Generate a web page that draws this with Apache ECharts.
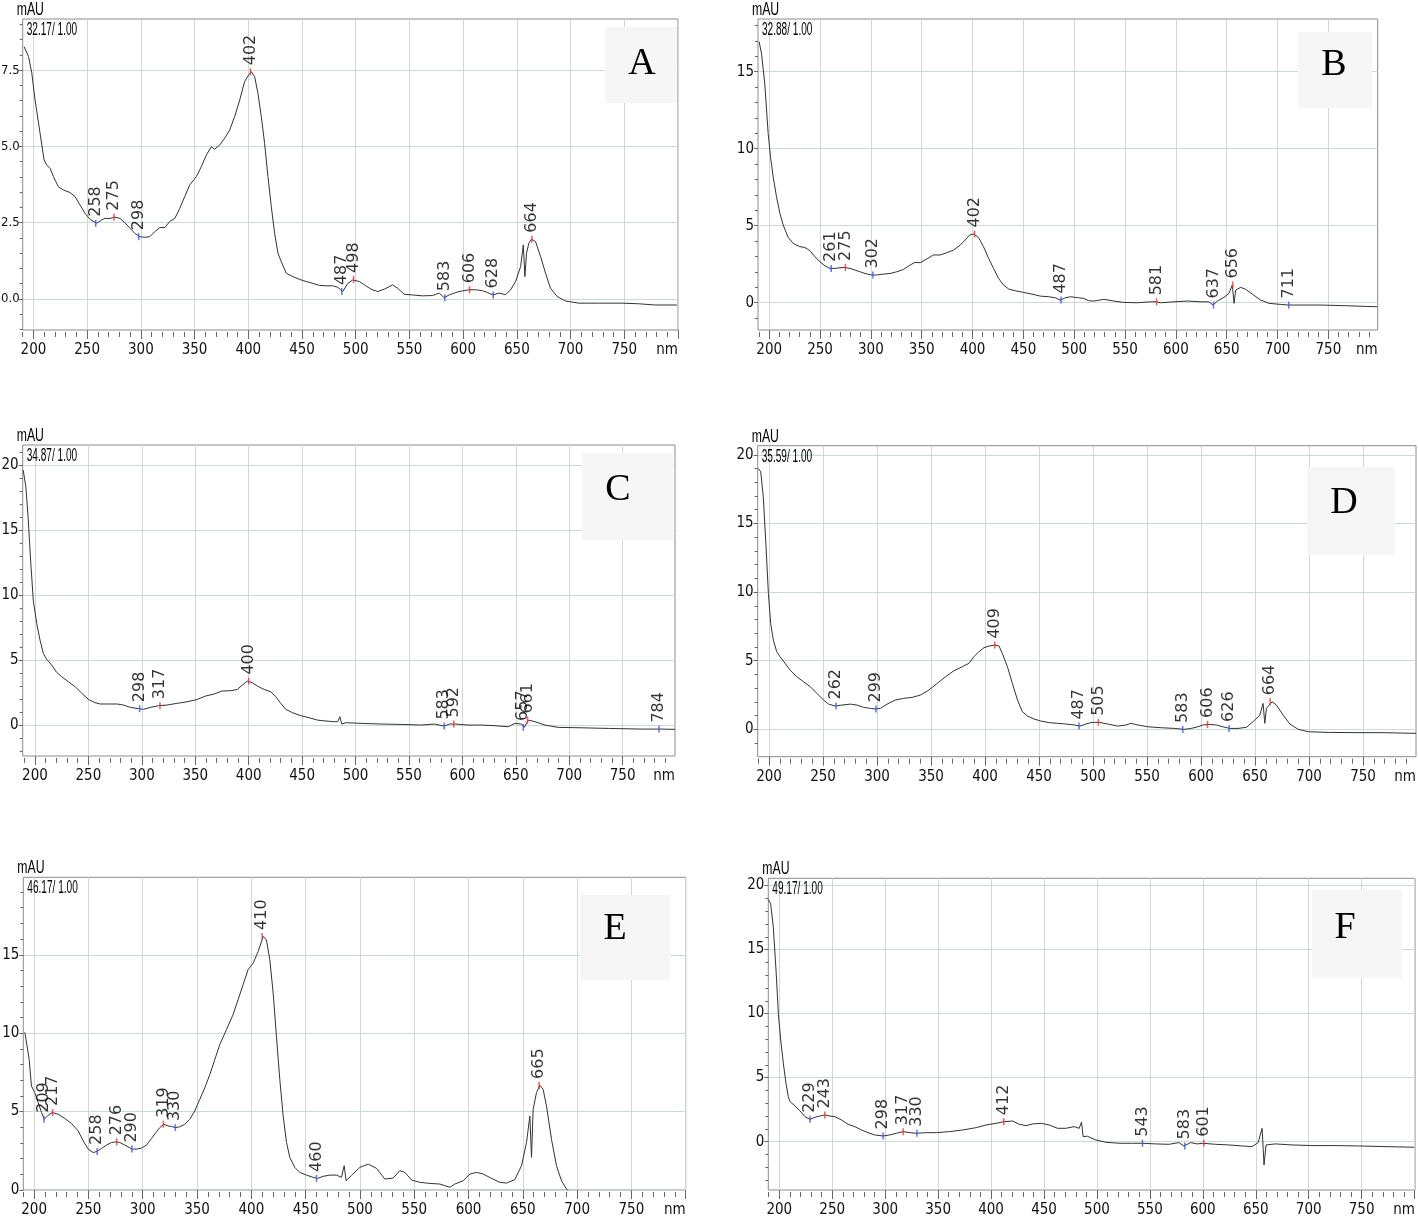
<!DOCTYPE html>
<html><head><meta charset="utf-8">
<script src="https://cdn.jsdelivr.net/npm/echarts@6/dist/echarts.min.js"></script>
<style>html,body{margin:0;padding:0;background:#fff}#c{width:1418px;height:1222px}</style>
</head><body><div id="c"></div>
<script>
// ---------- DATA (wavelength nm, absorbance mAU) ----------
const specA = [[191.3,8.27],[195.4,7.95],[198.5,7.4],[201.5,6.52],[206.2,5.43],[209.9,4.56],[212.4,4.39],[215.5,4.28],[218.6,4.01],[223.2,3.68],[227.9,3.57],[234,3.49],[238.7,3.36],[243.3,3.08],[248,2.81],[252.6,2.61],[258.8,2.48],[263.5,2.59],[266.6,2.64],[271.2,2.64],[275.9,2.68],[280.5,2.64],[285.1,2.5],[289.8,2.32],[294.4,2.15],[299,2.04],[303.7,2.02],[308.4,2.04],[313,2.21],[317.6,2.34],[322.3,2.34],[326.9,2.54],[331.6,2.64],[336.2,2.97],[340.9,3.36],[345.5,3.74],[351.7,4.01],[356.3,4.34],[361,4.72],[365.6,4.99],[368.7,4.91],[373.4,5.05],[378,5.27],[382.7,5.54],[387.3,5.98],[392,6.52],[396.6,7.13],[399.7,7.31],[402.8,7.45],[405.9,7.29],[409,6.74],[412.1,5.98],[415.2,5.1],[418.3,4.01],[421.4,3.03],[424.5,2.15],[427.6,1.5],[430.7,1.22],[435.3,0.84],[441.5,0.73],[447.7,0.64],[453.9,0.57],[460.1,0.51],[466.3,0.44],[472.4,0.43],[478.6,0.43],[483.3,0.38],[487.9,0.24],[492.6,0.51],[497.2,0.62],[503.4,0.57],[508,0.46],[514.2,0.32],[520.4,0.24],[526.6,0.32],[534.3,0.46],[539,0.35],[545.2,0.15],[552.9,0.13],[562.2,0.1],[571.5,0.11],[577.7,0.19],[582.3,0.04],[587,0.13],[591.6,0.19],[596.2,0.24],[600.9,0.27],[605.5,0.3],[611.7,0.3],[617.9,0.27],[622.5,0.21],[627.8,0.13],[633.4,0.19],[639.5,0.14],[644.2,0.3],[648.8,0.57],[653.5,1.06],[656,1.77],[657.5,0.73],[659,1.5],[661.2,1.83],[663.7,1.96],[667.4,1.88],[672.1,1.39],[676.7,0.84],[681.3,0.35],[687.5,0.08],[695.3,-0.07],[707.6,-0.14],[726.2,-0.14],[747.9,-0.14],[763.3,-0.16],[778.8,-0.2],[798.9,-0.2]];
const specB = [[190.1,16.95],[192.4,16.2],[195.7,14.2],[199,11.0],[201.3,9.48],[203.9,8.18],[207.2,6.88],[210.5,5.8],[213.8,5.04],[218.7,4.24],[223.6,3.85],[230.2,3.64],[235.1,3.59],[240.1,3.38],[245,2.99],[249.9,2.66],[254.8,2.4],[259.8,2.23],[264.7,2.23],[269.6,2.27],[274.5,2.29],[279.5,2.23],[284.4,2.12],[289.3,2.01],[294.3,1.9],[300.8,1.8],[305.7,1.8],[312.3,1.86],[318.9,1.9],[325.5,2.01],[332,2.16],[338.6,2.45],[343.5,2.62],[348.4,2.6],[355,2.84],[361.6,3.1],[368.1,3.1],[374.7,3.25],[381.3,3.42],[387.8,3.74],[392.8,4.07],[397,4.39],[401,4.46],[405.9,4.24],[410.8,3.64],[415.8,2.88],[420.7,2.23],[425.6,1.58],[430.5,1.15],[435.5,0.89],[442,0.78],[450.2,0.67],[458.5,0.56],[466.7,0.43],[474.9,0.39],[481.4,0.32],[486.4,0.17],[491.3,0.32],[496.2,0.39],[504.4,0.32],[509.4,0.28],[514.3,0.13],[519.2,0.11],[529.1,0.22],[539,0.11],[548.8,0.02],[561.9,0],[575.1,0.06],[581,0.06],[585,0],[598.1,0.06],[611.2,0.11],[624.3,0.06],[632.5,0.06],[636.5,-0.15],[640.8,0.11],[647.3,0.35],[652.2,0.61],[655.5,1.15],[657.2,-0.04],[658.8,0.82],[663.7,1.0],[668.7,0.87],[675.2,0.56],[683.4,0.17],[691.7,-0.04],[703.1,-0.11],[710.4,-0.15],[722.9,-0.15],[742.6,-0.15],[765.6,-0.19],[798,-0.26]];
const specC = [[189,19.6],[191.5,18.3],[193.7,15.8],[195.9,12.7],[198.4,9.6],[201.6,7.82],[204.7,6.54],[207.8,5.51],[211,5.05],[215.6,4.62],[220.3,4.05],[225,3.72],[231.3,3.33],[237.6,2.95],[243.8,2.44],[250.1,1.97],[256.3,1.72],[261,1.62],[268.9,1.62],[276.7,1.62],[282.9,1.54],[289.2,1.36],[297,1.26],[301.7,1.21],[308,1.36],[315.8,1.49],[323.6,1.54],[333,1.67],[342.4,1.79],[351.8,1.97],[359.6,2.23],[367.4,2.38],[375.3,2.62],[383.1,2.64],[389.4,2.74],[394.1,3.08],[398.7,3.38],[403.4,3.26],[408.1,3.0],[414.4,2.74],[420.7,2.56],[425.4,2.18],[430,1.67],[434.7,1.21],[441,0.95],[448.8,0.72],[456.7,0.56],[464.5,0.38],[472.3,0.31],[480.1,0.26],[483.3,0.26],[485.4,0.64],[487,0.08],[491.1,0.18],[505.2,0.13],[524,0.08],[542.7,0.05],[561.5,0],[574,0.08],[582.8,-0.08],[588.1,0.08],[593.4,0.08],[605.3,0],[617.9,0],[630.4,-0.05],[642.9,-0.13],[649.2,0.13],[655.4,0.08],[657.9,-0.18],[661.7,0.38],[667.9,0.26],[677.3,0],[689.8,-0.18],[705.5,-0.2],[736.8,-0.26],[768.1,-0.31],[785.3,-0.31],[799,-0.33]];
const specD = [[190.1,19.0],[192.3,18.76],[194.7,16.9],[197.2,13.3],[199.4,9.9],[201.5,7.72],[204,6.5],[207.1,5.66],[210.2,5.29],[214.9,4.81],[219.5,4.32],[225.7,3.83],[231.9,3.47],[238.1,3.11],[244.3,2.62],[250.4,2.14],[255.1,1.84],[261.3,1.7],[267.5,1.77],[275.2,1.84],[281.4,1.77],[287.6,1.6],[293.8,1.53],[298.4,1.48],[303.1,1.53],[309.3,1.84],[317,2.14],[324.7,2.26],[332.5,2.33],[340.2,2.5],[347.9,2.86],[355.7,3.35],[363.4,3.83],[371.2,4.27],[378.9,4.56],[385.1,4.81],[389.7,5.29],[394.4,5.66],[399,5.95],[403.7,6.07],[409.2,6.14],[412.9,6.07],[416,5.53],[420.7,4.56],[425.3,3.35],[430,2.14],[434.6,1.29],[439.2,0.97],[445.4,0.75],[451.6,0.61],[459.4,0.49],[467.1,0.44],[474.8,0.39],[482.6,0.32],[487.8,0.24],[493.4,0.39],[498,0.49],[501.1,0.51],[505.8,0.51],[513.5,0.39],[522.8,0.24],[530.6,0.32],[535.2,0.44],[541.4,0.32],[550.7,0.19],[563.1,0.12],[575.4,0.07],[584.1,0],[590.9,0.07],[597.1,0.19],[601.7,0.32],[607,0.36],[614.1,0.32],[620.3,0.19],[626.5,0.07],[634.2,0.07],[642,0.15],[648.2,0.56],[654.4,1.04],[657.4,1.89],[659,0.44],[660.5,1.53],[665.8,2.01],[669.8,1.77],[676,1.04],[682.2,0.39],[690,0],[699.2,-0.17],[717.8,-0.22],[742.6,-0.24],[767.3,-0.24],[799,-0.29]];
const specE = [[191.4,10.06],[192.9,10.0],[195.4,8.33],[197.5,6.63],[200.6,6.21],[203.7,5.57],[206.8,4.94],[209.2,4.51],[212.9,4.77],[216.6,4.94],[222.1,4.83],[228.2,4.56],[234.4,4.24],[240.5,3.77],[245.1,3.14],[249.7,2.61],[254.3,2.39],[258,2.46],[262,2.65],[266.6,2.86],[271.2,3.03],[275.2,3.07],[278.9,3.03],[283.5,2.86],[290.2,2.61],[294.2,2.61],[298.8,2.67],[303.4,2.86],[308,3.28],[312.6,3.71],[315.7,3.98],[319.4,4.19],[323.4,4.09],[326.5,4.05],[330.1,3.98],[334.1,4.03],[338.7,4.19],[343.3,4.51],[347.9,5.04],[352.5,5.78],[357.2,6.53],[361.8,7.37],[366.4,8.33],[371,9.28],[377.1,10.23],[383.2,11.19],[387.8,12.14],[392.4,13.09],[397,14.05],[401.7,14.47],[406.3,15.21],[410.9,16.17],[413.9,15.95],[417,14.68],[420.1,12.56],[423.1,9.81],[426.2,7.06],[429.3,4.72],[432.4,3.03],[435.4,2.08],[440,1.44],[444.6,1.12],[450.8,0.95],[456.9,0.81],[460.9,0.74],[466.1,0.87],[472.3,0.95],[478.4,0.95],[483,0.81],[485.5,1.55],[487.3,0.59],[492.2,0.93],[499.9,1.44],[507.6,1.65],[515.3,1.38],[522.9,0.7],[530.6,0.76],[536.7,1.23],[541.4,1.12],[547.5,0.64],[555.2,0.49],[564.4,0.42],[573.6,0.38],[582.8,0.17],[587.4,0.38],[595.1,0.59],[601.2,1.02],[607.3,1.12],[613.5,1.02],[621.2,0.74],[628.8,0.49],[635,0.44],[642.6,0.66],[648.8,1.55],[653.4,3.03],[656.5,4.72],[658,2.08],[659.5,5.15],[662.6,6.21],[665.7,6.67],[668.7,6.42],[671.8,5.36],[676.4,3.24],[681,1.55],[685.6,0.59],[690.2,0.06],[693.3,-0.15]];
const specF = [[189.6,18.9],[191.8,18.6],[194.3,16.8],[196.9,13.4],[199.1,10.0],[201.3,7.94],[203.8,6.12],[206.3,4.56],[208.5,3.52],[210,3.13],[214.8,2.79],[219.5,2.4],[224.2,1.95],[228.9,1.74],[233.6,1.9],[238.3,2.0],[243,2.08],[247.7,2.0],[252.4,1.95],[258.7,1.69],[265,1.35],[271.3,1.17],[277.6,0.91],[283.8,0.7],[290.1,0.52],[298,0.44],[304.2,0.52],[310.5,0.65],[316.8,0.78],[323.1,0.7],[329.4,0.65],[338.8,0.7],[348.2,0.7],[360.8,0.78],[373.3,0.91],[385.9,1.09],[395.3,1.3],[404.7,1.43],[412.6,1.56],[420.4,1.61],[426.7,1.35],[433,1.25],[439.2,1.38],[447.1,1.43],[454.9,1.3],[462.8,1.04],[470.6,1.04],[478.5,1.17],[483.2,1.04],[485.4,1.52],[487,0.39],[491,0.42],[498.9,0.13],[508.4,-0.05],[520.9,-0.13],[533.5,-0.13],[542.9,-0.13],[555.5,-0.18],[568,-0.21],[577.4,-0.08],[582.1,-0.34],[588.4,-0.08],[594.7,-0.18],[600,-0.13],[612,-0.21],[624.5,-0.26],[637.1,-0.34],[646.5,-0.39],[652.2,-0.08],[656,1.04],[657.8,-1.82],[659.7,-0.26],[668.5,-0.18],[684.2,-0.26],[703,-0.31],[725,-0.31],[747,-0.34],[772.1,-0.39],[799.7,-0.44]];

// peak labels: wavelength, value at marker, kind (max = red, min = blue)
const peaksA = [258,275,298,402,487,498,583,606,628,664];
const peakValA = [2.48,2.68,2.04,7.45,0.24,0.64,0.04,0.3,0.13,1.96];
const peakKindA = ['min','max','min','max','min','max','min','max','min','max'];
const peaksB = [261,275,302,402,487,581,637,656,711];
const peakValB = [2.23,2.29,1.8,4.46,0.17,0.06,-0.15,1.15,-0.15];
const peakKindB = ['min','max','min','max','min','max','min','max','min'];
const peaksC = [298,317,400,583,592,657,661,784];
const peakValC = [1.26,1.49,3.38,-0.08,0.08,-0.18,0.38,-0.31];
const peakKindC = ['min','max','max','min','max','min','max','min'];
const peaksD = [262,299,409,487,505,583,606,626,664];
const peakValD = [1.7,1.48,6.14,0.24,0.51,0,0.36,0.07,2.01];
const peakKindD = ['min','min','max','min','max','min','max','min','max'];
const peaksE = [209,217,258,276,290,319,330,410,460,665];
const peakValE = [4.51,4.94,2.46,3.07,2.61,4.19,3.98,16.17,0.74,6.67];
const peakKindE = ['min','max','min','max','min','max','min','max','min','max'];
const peaksF = [229,243,298,317,330,412,543,583,601];
const peakValF = [1.74,2.08,0.44,0.78,0.65,1.56,-0.13,-0.34,-0.13];
const peakKindF = ['min','max','min','max','min','max','min','min','max'];

// tick labels
const xTickLabels = [200,250,300,350,400,450,500,550,600,650,700,750];
const yTicksA = [0,2.5,5,7.5];
const yTicksB = [0,5,10,15];
const yTicksC = [0,5,10,15,20];
const yTicksD = [0,5,10,15,20];
const yTicksE = [0,5,10,15];
const yTicksF = [0,5,10,15,20];
const panelLetters = ['A','B','C','D','E','F'];
const retentionTexts = ['32.17/ 1.00','32.88/ 1.00','34.87/ 1.00','35.59/ 1.00','46.17/ 1.00','49.17/ 1.00'];

// ---------- LAYOUT ----------
const layout = [
  {rect:[22.7,19,655.3,311], x:[190,800], y:[-1.02,9.18], step:0.5, dec:1, box:[605,27,72,76], letter:[642,64]},
  {rect:[758,19,619.7,311], x:[189,798.5], y:[-1.77,18.42], step:1, dec:0, box:[1298,32,74,76], letter:[1334,65]},
  {rect:[22.7,445,652.3,311], x:[188.5,799], y:[-2.38,21.54], step:1, dec:0, box:[582,453,91,87], letter:[618,490]},
  {rect:[757.7,445.7,658.3,311], x:[189.5,799], y:[-1.99,20.66], step:1, dec:0, box:[1307,467,88,88], letter:[1344,503]},
  {rect:[23.3,877.3,662.4,312.7], x:[190,800], y:[0,19.94], step:1, dec:0, box:[580,895,90,85], letter:[615,929]},
  {rect:[768.3,878.3,646.7,311.7], x:[189.6,800.4], y:[-3.78,20.57], step:1, dec:0, box:[1312,890,90,88], letter:[1345,928]}
];
const specs = [specA,specB,specC,specD,specE,specF];
const peaks = [peaksA,peaksB,peaksC,peaksD,peaksE,peaksF];
const peakVals = [peakValA,peakValB,peakValC,peakValD,peakValE,peakValF];
const peakKinds = [peakKindA,peakKindB,peakKindC,peakKindD,peakKindE,peakKindF];
const yTicks = [yTicksA,yTicksB,yTicksC,yTicksD,yTicksE,yTicksF];

const COND = '"DejaVu Sans Condensed","Liberation Sans Narrow",sans-serif';
const GRIDC = '#cfd8d8';
const TICKC = '#666';

const option = {animation:false, backgroundColor:'#fff', grid:[], xAxis:[], yAxis:[], series:[], graphic:[]};

layout.forEach((p,i)=>{
  const [L,T,W,H] = p.rect;
  option.grid.push({left:L, top:T, width:W, height:H, show:true, borderColor:'#8c8c8c', borderWidth:1,
    backgroundColor:'transparent', containLabel:false, outerBoundsMode:'none'});
  const xMajor = xTickLabels.concat([800]).filter(v=>v>=p.x[0]&&v<=p.x[1]+0.6);
  const xMinor = []; for (let v=Math.ceil(p.x[0]/10)*10; v<=p.x[1]+0.6; v+=10) xMinor.push(v);
  const yMinor = []; for (let v=Math.ceil(p.y[0]/p.step)*p.step; v<=p.y[1]+1e-9; v+=p.step) yMinor.push(+v.toFixed(2));
  option.xAxis.push({type:'value', gridIndex:i, min:p.x[0], max:p.x[1], position:'bottom',
    axisLine:{show:false, onZero:false},
    axisTick:{show:true, customValues:xMajor, length:9, lineStyle:{color:TICKC}},
    axisLabel:{show:true, customValues:xTickLabels, margin:13, fontSize:15, fontFamily:COND, color:'#111'},
    splitLine:{show:true, lineStyle:{color:GRIDC, width:1}},
    name:'nm', nameLocation:'end', nameGap:0,
    nameTextStyle:{fontSize:15, fontFamily:COND, color:'#111', align:'right', verticalAlign:'top', padding:[13,0,0,0]}
  });
  option.xAxis.push({type:'value', gridIndex:i, min:p.x[0], max:p.x[1], position:'bottom', offset:2,
    axisLine:{show:false, onZero:false}, axisTick:{show:true, customValues:xMinor, length:5, lineStyle:{color:TICKC}},
    axisLabel:{show:false}, splitLine:{show:false}});
  option.yAxis.push({type:'value', gridIndex:i, min:p.y[0], max:p.y[1], position:'left',
    axisLine:{show:false, onZero:false},
    axisTick:{show:true, customValues:yTicks[i], length:4, lineStyle:{color:TICKC}},
    axisLabel:{show:true, customValues:yTicks[i], margin:p.dec ? 3 : 4, fontSize:p.dec ? 13 : 15, fontFamily:COND, color:'#111',
      formatter:(v)=>Number(v).toFixed(p.dec)},
    splitLine:{show:true, lineStyle:{color:GRIDC, width:1}}
  });
  option.yAxis.push({type:'value', gridIndex:i, min:p.y[0], max:p.y[1], position:'left',
    axisLine:{show:false, onZero:false}, axisTick:{show:true, customValues:yMinor, length:3, lineStyle:{color:TICKC}},
    axisLabel:{show:false}, splitLine:{show:false}});

  option.series.push({type:'line', xAxisIndex:2*i, yAxisIndex:2*i, data:specs[i], showSymbol:false, symbol:'none',
    lineStyle:{color:'#333', width:1}, z:2, silent:true, clip:true});
  option.series.push({type:'scatter', xAxisIndex:2*i, yAxisIndex:2*i, z:3, silent:true,
    symbol:'rect', symbolSize:[1.5,7],
    data: peaks[i].map((w,j)=>({name:String(w), value:[w, peakVals[i][j]],
      itemStyle:{color: peakKinds[i][j]==='max' ? '#e8342c' : '#3358e6'}})),
    label:{show:true, formatter:'{b}', position:'top', distance:3, rotate:90, align:'left', verticalAlign:'middle',
      fontFamily:'"DejaVu Sans",sans-serif', fontSize:16, color:'#000'}
  });

  option.graphic.push({type:'text', x:L-6, y:T-18, scaleX:0.68, z:10,
    style:{text:'mAU', fontSize:18, fontFamily:'"Liberation Sans", Arial, sans-serif', fill:'#000', verticalAlign:'top', textVerticalAlign:'top'}});
  option.graphic.push({type:'text', x:L+4, y:T+2, scaleX:0.56, z:10,
    style:{text:retentionTexts[i], fontSize:18, fontFamily:'"Liberation Sans", Arial, sans-serif', fill:'#000', verticalAlign:'top', textVerticalAlign:'top'}});
  option.graphic.push({type:'rect', z:9, shape:{x:p.box[0], y:p.box[1], width:p.box[2], height:p.box[3]},
    style:{fill:'#f6f6f6'}});
  option.graphic.push({type:'text', x:p.letter[0], y:p.letter[1], z:10,
    style:{text:panelLetters[i], fontSize:38, fontFamily:'"Liberation Serif", "Times New Roman", serif', fill:'#000',
      align:'center', verticalAlign:'middle', textAlign:'center', textVerticalAlign:'middle'}});
});

const chart = echarts.init(document.getElementById('c'), null, {renderer:'canvas'});
chart.setOption(option);
</script>
</body></html>
